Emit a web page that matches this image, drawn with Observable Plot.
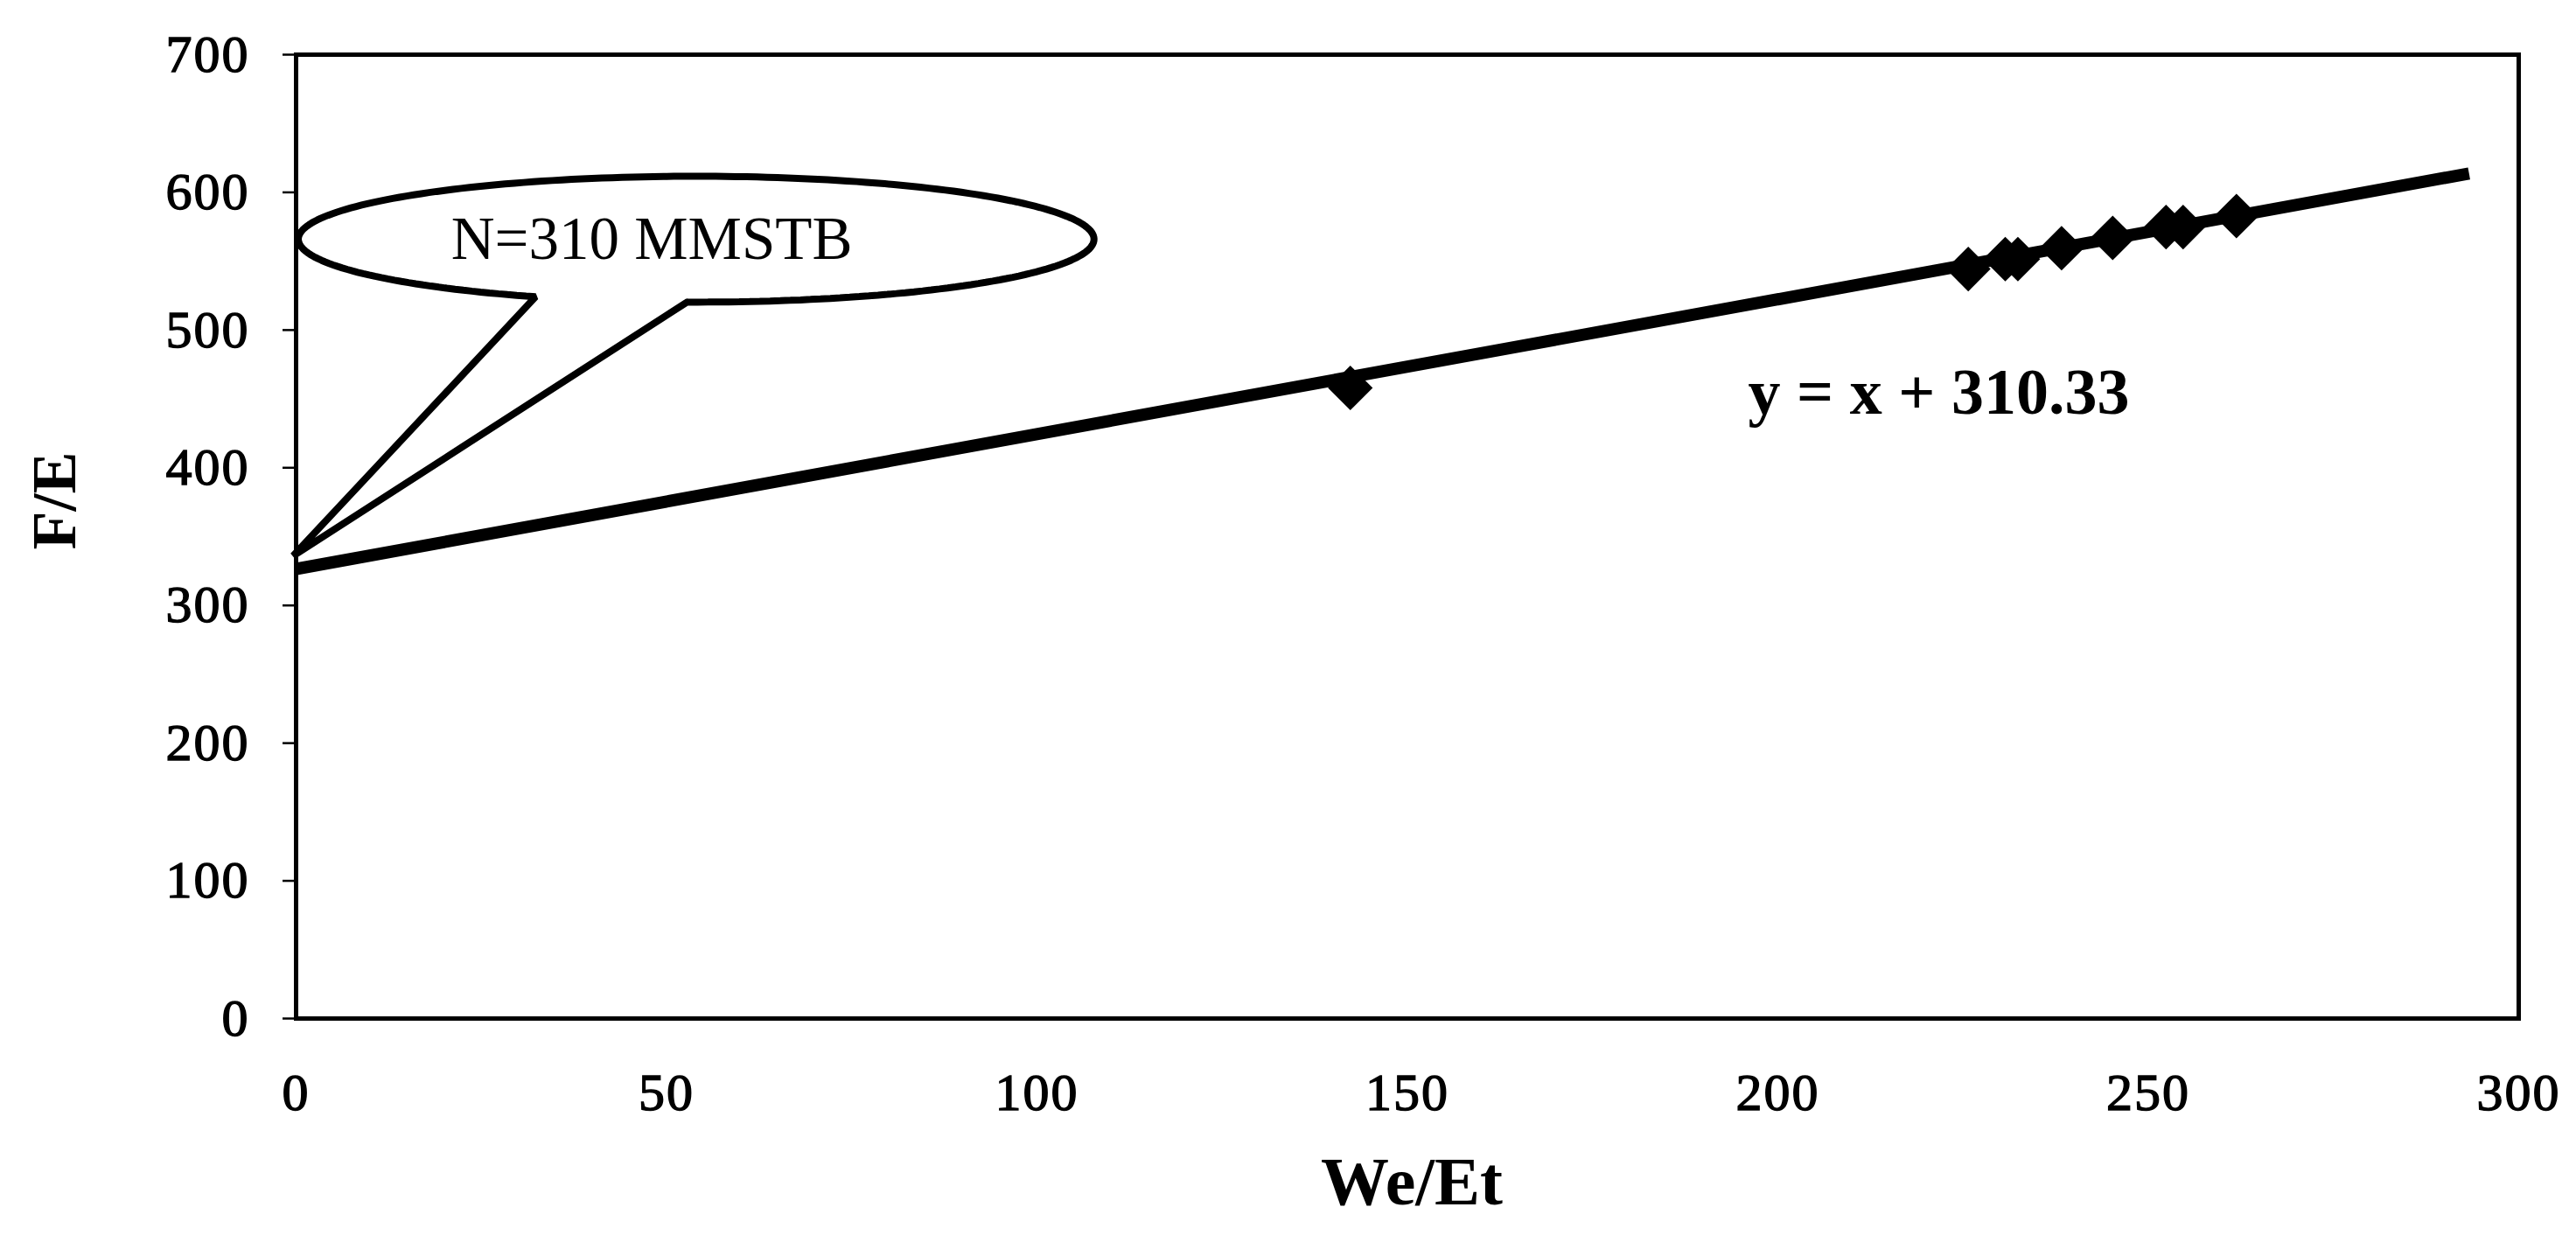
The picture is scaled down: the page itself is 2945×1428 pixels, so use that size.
<!DOCTYPE html>
<html>
<head>
<meta charset="utf-8">
<script src="https://cdn.jsdelivr.net/npm/d3@7"></script>
<script src="https://cdn.jsdelivr.net/npm/@observablehq/plot@0.6"></script>
<style>
  html, body { margin: 0; padding: 0; background: #fff; }
  #chart svg { display: block; }
</style>
</head>
<body>
<div id="chart"></div>
<script>
// ---- data ----
const pointsX = [142.3, 225.7, 230.7, 232.4, 238.3, 245.2, 252.4, 254.7, 261.9];
const pointsY = [458.0, 544.3, 551.5, 551.5, 559.5, 566.9, 574.8, 574.8, 582.8];
const trendX = [0, 293.3];
const trendY = [326.5, 613.7];
const xTicks = [0, 50, 100, 150, 200, 250, 300];
const yTicks = [0, 100, 200, 300, 400, 500, 600, 700];
const xTitle = "We/Et";
const yTitle = "F/E";
const equationLabel = "y = x + 310.33";
const calloutLabel = "N=310 MMSTB";

const points = pointsX.map((x, i) => ({x, y: pointsY[i]}));
const trend = trendX.map((x, i) => ({x, y: trendY[i]}));

// callout balloon geometry (annotation shape, in data units)
const ell = {cx: 54, cy: 566, rx: 53.7, ry: 45.7};
const tip = {x: -0.4, y: 336};
const callout = [];
for (let a = 268.7; a <= 606.2; a += 1.5) {
  const t = a * Math.PI / 180;
  callout.push({x: ell.cx + ell.rx * Math.cos(t), y: ell.cy + ell.ry * Math.sin(t)});
}
{
  const t = 606.2 * Math.PI / 180;
  callout.push({x: ell.cx + ell.rx * Math.cos(t), y: ell.cy + ell.ry * Math.sin(t)});
}
callout.push(tip);
callout.push(callout[0]);

const serif = "Liberation Serif, Times New Roman, serif";

const chart = Plot.plot({
  width: 2945,
  height: 1428,
  marginLeft: 338,
  marginRight: 66,
  marginTop: 62,
  marginBottom: 264,
  style: {fontFamily: serif, fontSize: "60px", background: "white", color: "black"},
  x: {domain: [0, 300], ticks: xTicks, tickSize: 0, tickPadding: 62, label: null},
  y: {domain: [0, 700], ticks: yTicks, tickSize: 15, tickPadding: 38, label: null},
  marks: [
    Plot.frame({stroke: "black", strokeWidth: 5}),
    Plot.line(callout, {x: "x", y: "y", stroke: "black", strokeWidth: 8, fill: "white", curve: "linear", strokeLinejoin: "miter"}),
    Plot.text([calloutLabel], {x: 48, y: 566, text: d => d, fontSize: 69, fontFamily: serif, ariaLabel: "callout-label"}),
    Plot.line(trend, {x: "x", y: "y", stroke: "black", strokeWidth: 14, strokeLinecap: "butt"}),
    Plot.dot(points, {x: "x", y: "y", symbol: "diamond2", r: 23, fill: "black", stroke: "none"}),
    Plot.text([equationLabel], {x: 196, y: 454, text: d => d, textAnchor: "start", fontSize: 74, fontWeight: "bold", fontFamily: serif, ariaLabel: "equation"}),
    Plot.text([yTitle], {frameAnchor: "left", dx: -276, dy: 15, rotate: -90, text: d => d, fontSize: 72, fontWeight: "bold", fontFamily: serif, ariaLabel: "y-title"}),
    Plot.text([xTitle], {frameAnchor: "bottom", dx: 5, dy: 212, text: d => d, fontSize: 78, fontWeight: "bold", fontFamily: serif, ariaLabel: "x-title"})
  ]
});

document.getElementById("chart").appendChild(chart);

// ---- styling touches ----
const svg = d3.select(chart);
svg.selectAll('[aria-label="x-axis tick label"] text, [aria-label="y-axis tick label"] text, [aria-label="x-axis"] text, [aria-label="y-axis"] text')
  .style("font-size", "60px")
  .style("font-family", serif)
  .style("letter-spacing", "2px")
  .attr("stroke", "black")
  .attr("stroke-width", 1.4)
  .attr("paint-order", "stroke");
svg.selectAll('[aria-label="y-axis tick"], [aria-label="y-axis"] line')
  .attr("stroke-width", 2.5);
svg.selectAll('[aria-label="y-axis tick"] path').attr("stroke-width", 2.5);
svg.selectAll('[aria-label="equation"] text').style("letter-spacing", "5px");
svg.selectAll('[aria-label="callout-label"] text').style("letter-spacing", "10px");
svg.selectAll('[aria-label="x-title"] text').each(function() {
  const el = d3.select(this);
  el.text("");
  el.append("tspan").text("W");
  el.append("tspan").attr("font-size", 50).attr("dy", 4).text("e");
  el.append("tspan").attr("dy", -4).text("/E");
  el.append("tspan").attr("font-size", 50).attr("dy", 4).text("t");
});
</script>
</body>
</html>
